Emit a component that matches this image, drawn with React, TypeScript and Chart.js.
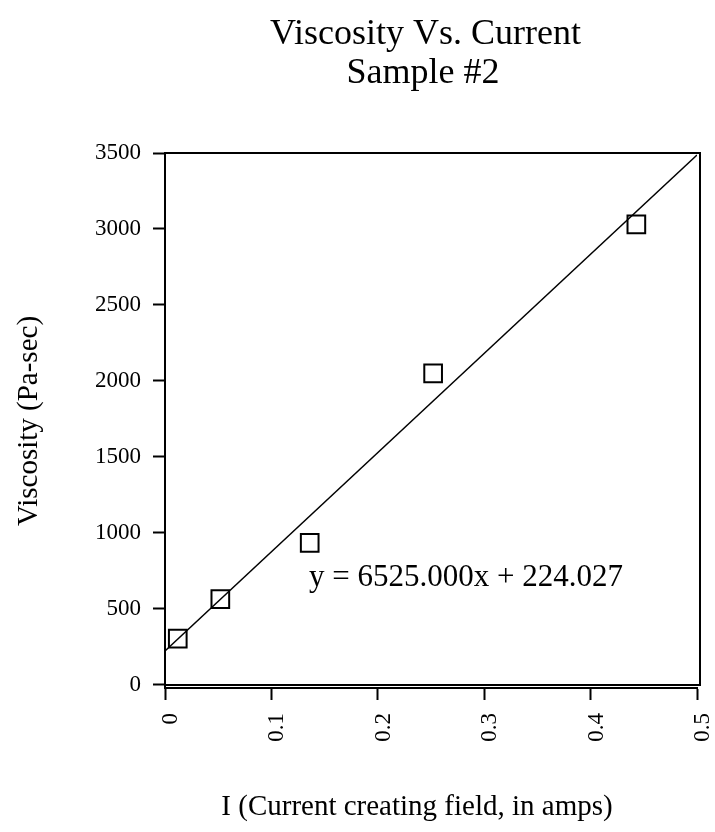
import React, { useEffect, useRef } from 'react';
import { Chart, registerables } from 'chart.js';

Chart.register(...registerables);

// ---- data ----
const currentAmps = [0.012, 0.052, 0.136, 0.252, 0.443];
const viscosityPaSec = [305, 565, 935, 2050, 3030];
// regression line endpoints (y = 6525.000x + 224.027 at x = 0 and x = 0.5)
const fitX = [0, 0.5];
const fitY = [224.027, 3486.527];
const xTickValues = [0, 0.1, 0.2, 0.3, 0.4, 0.5];
const yTickValues = [0, 500, 1000, 1500, 2000, 2500, 3000, 3500];
const titleLines = ['Viscosity Vs. Current', 'Sample #2'];
const xTitle = 'I (Current creating field, in amps)';
const yTitle = 'Viscosity (Pa-sec)';
const equationText = 'y = 6525.000x + 224.027';

const SERIF = "'Liberation Serif', 'Times New Roman', Times, serif";

const decorPlugin = {
  id: 'decor',
  afterDraw(chart: any) {
    const ctx = chart.ctx;
    const { chartArea, scales } = chart;
    const ys = scales.y;
    const left = chartArea.left;
    const top = chartArea.top;
    const bottom = ys.getPixelForValue(0);
    const right = chartArea.right + 3;
    ctx.save();
    // frame
    ctx.strokeStyle = '#000';
    ctx.lineWidth = 2;
    ctx.beginPath();
    ctx.moveTo(left, top);
    ctx.lineTo(right, top);
    ctx.lineTo(right, bottom);
    ctx.lineTo(left, bottom);
    ctx.stroke();

    ctx.fillStyle = '#000';
    // title
    ctx.font = `36px ${SERIF}`;
    ctx.textAlign = 'center';
    ctx.textBaseline = 'alphabetic';
    ctx.fillText(titleLines[0], 425.5, 44);
    ctx.fillText(titleLines[1], 423, 83);

    // x title
    ctx.font = `29px ${SERIF}`;
    ctx.fillText(xTitle, 417, 815);

    // y title
    ctx.save();
    ctx.translate(37, 421);
    ctx.rotate(-Math.PI / 2);
    ctx.font = `29px ${SERIF}`;
    ctx.textAlign = 'center';
    ctx.fillText(yTitle, 0, 0);
    ctx.restore();

    // equation
    ctx.font = `31px ${SERIF}`;
    ctx.textAlign = 'left';
    ctx.fillText(equationText, 309, 586);
    ctx.restore();
  },
};

export default function App() {
  const ref = useRef<HTMLCanvasElement | null>(null);
  useEffect(() => {
    if (!ref.current) return;
    const chart = new Chart(ref.current, {
      type: 'scatter',
      data: {
        datasets: [
          {
            type: 'line',
            label: 'fit',
            data: fitX.map((x, i) => ({ x, y: fitY[i] })),
            borderColor: '#000',
            borderWidth: 1.5,
            pointRadius: 0,
            fill: false,
            showLine: true,
          } as any,
          {
            label: 'Viscosity',
            data: currentAmps.map((x, i) => ({ x, y: viscosityPaSec[i] })),
            pointStyle: 'rect',
            pointRadius: 12.5,
            borderColor: '#000',
            borderWidth: 2,
            backgroundColor: 'rgba(0,0,0,0)',
          },
        ],
      },
      options: {
        animation: false,
        responsive: false,
        layout: { padding: { top: 153, right: 18, left: 0, bottom: 0 } },
        plugins: {
          legend: { display: false },
          tooltip: { enabled: false },
          title: { display: false },
        },
        scales: {
          x: {
            type: 'linear',
            position: 'bottom',
            min: 0,
            max: 0.5,
            afterBuildTicks: (s: any) => {
              s.ticks = xTickValues.map((v) => ({ value: v }));
            },
            afterFit: (s: any) => {
              s.height = 832 - 688;
              s.paddingLeft = 0;
              s.paddingRight = 0;
            },
            grid: {
              drawOnChartArea: false,
              drawTicks: true,
              tickLength: 12,
              tickColor: '#000',
              tickWidth: 2,
              color: '#000',
            } as any,
            border: { display: true, color: '#000', width: 2 },
            ticks: {
              color: '#000',
              font: { family: SERIF, size: 23 },
              minRotation: 90,
              maxRotation: 90,
              padding: 13,
              labelOffset: 6,
              autoSkip: false,
              callback: (v: any) => String(v),
            },
          },
          y: {
            type: 'linear',
            position: 'left',
            min: -20,
            max: 3500,
            afterBuildTicks: (s: any) => {
              s.ticks = yTickValues.map((v) => ({ value: v }));
            },
            afterFit: (s: any) => {
              s.width = 165;
              s.paddingTop = 0;
              s.paddingBottom = 0;
            },
            grid: {
              drawOnChartArea: false,
              drawTicks: true,
              tickLength: 12,
              tickColor: '#000',
              tickWidth: 2,
              color: '#000',
            } as any,
            border: { display: true, color: '#000', width: 2 },
            ticks: {
              color: '#000',
              font: { family: SERIF, size: 23 },
              padding: 12,
              autoSkip: false,
              callback: (v: any) => String(v),
            },
          },
        },
      },
      plugins: [decorPlugin],
    });
    return () => chart.destroy();
  }, []);

  return (
    <div style={{ position: 'fixed', left: 0, top: 0, width: 715, height: 832, background: '#fff' }}>
      <canvas ref={ref} width={715} height={832} style={{ display: 'block' }} />
    </div>
  );
}
